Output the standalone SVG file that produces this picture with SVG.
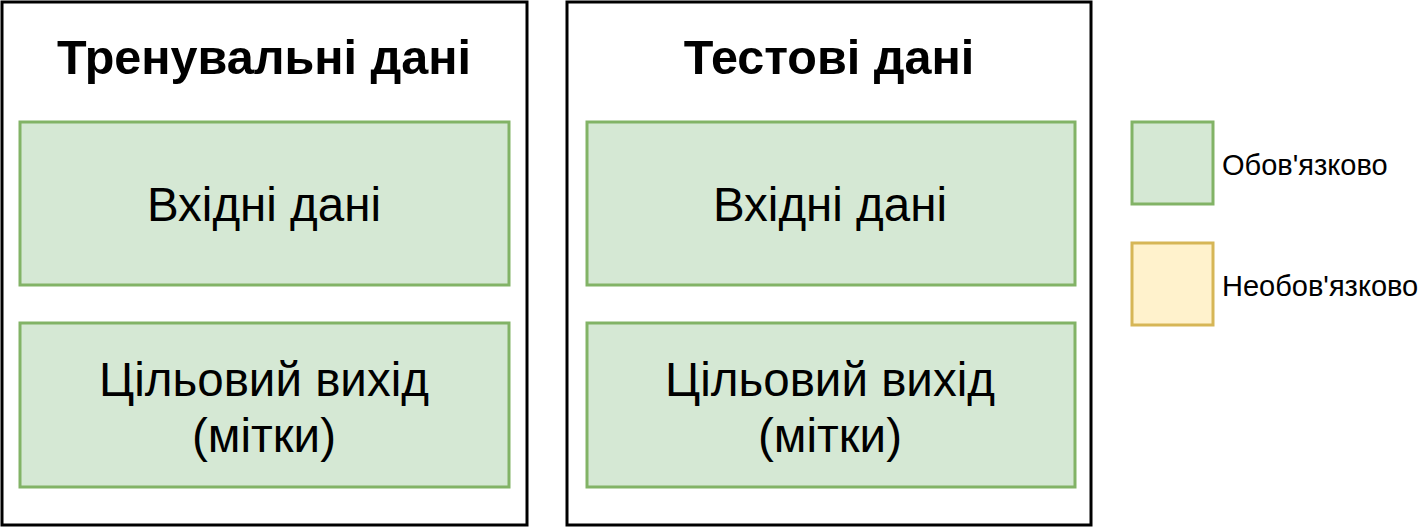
<svg xmlns="http://www.w3.org/2000/svg" width="1420" height="528" viewBox="0 0 1420 528">
<style>
.outer{fill:#ffffff;stroke:#000000;stroke-width:3}
.req{fill:#d5e8d4;stroke:#82b366;stroke-width:3}
.opt{fill:#fff2cc;stroke:#d6b656;stroke-width:3}
.title{font-family:"Liberation Sans",Arial,sans-serif;font-weight:bold;font-size:48.5px;fill:#000;text-anchor:middle}
.lbl{font-family:"Liberation Sans",Arial,sans-serif;font-size:47.5px;fill:#000;text-anchor:middle}
.leg{font-family:"Liberation Sans",Arial,sans-serif;font-size:29px;fill:#000}
</style>
<rect width="1420" height="528" fill="#ffffff"/>
<g id="train">
<rect class="outer" x="2" y="2" width="525" height="523"/>
<text class="title" x="264" y="74">Тренувальні дані</text>
</g>
<g id="train-input">
<rect class="req" x="20" y="122" width="489" height="163"/>
<text class="lbl" x="264" y="221">Вхідні дані</text>
</g>
<g id="train-target">
<rect class="req" x="20" y="323" width="489" height="164"/>
<text class="lbl" x="264" y="396">Цільовий вихід</text>
<text class="lbl" x="264" y="452">(мітки)</text>
</g>
<g id="test">
<rect class="outer" x="567" y="2" width="524" height="523"/>
<text class="title" x="829" y="74">Тестові дані</text>
</g>
<g id="test-input">
<rect class="req" x="587" y="122" width="488" height="163"/>
<text class="lbl" x="830" y="221">Вхідні дані</text>
</g>
<g id="test-target">
<rect class="req" x="587" y="323" width="488" height="164"/>
<text class="lbl" x="830" y="396">Цільовий вихід</text>
<text class="lbl" x="830" y="452">(мітки)</text>
</g>
<g id="legend-required">
<rect class="req" x="1132" y="122" width="81" height="82"/>
<text class="leg" x="1222" y="175">Обов'язково</text>
</g>
<g id="legend-optional">
<rect class="opt" x="1132" y="243" width="81" height="82"/>
<text class="leg" x="1222" y="296">Необов'язково</text>
</g>
<g id="connectors"></g>
</svg>
